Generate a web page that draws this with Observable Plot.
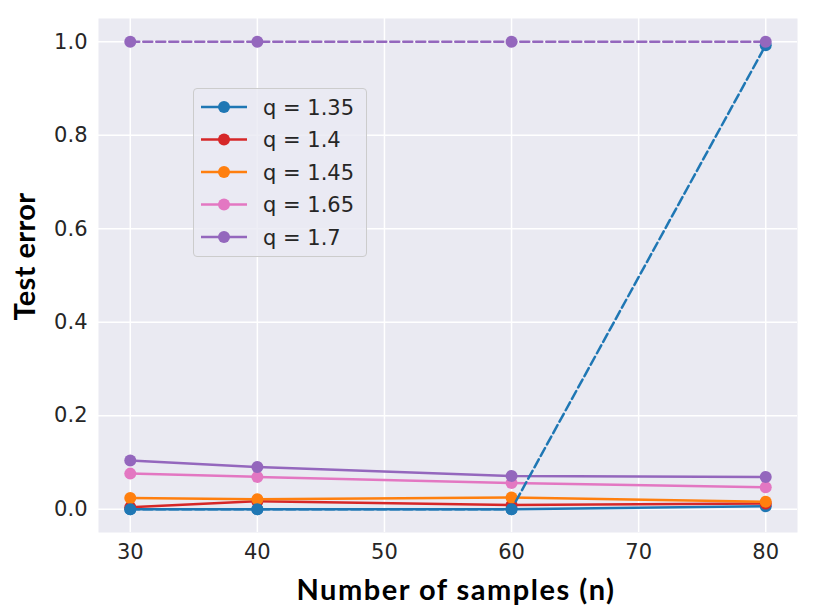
<!DOCTYPE html>
<html>
<head>
<meta charset="utf-8">
<script src="https://cdn.jsdelivr.net/npm/d3@7"></script>
<script src="https://cdn.jsdelivr.net/npm/@observablehq/plot@0.6"></script>
<style>
  html, body { margin: 0; padding: 0; background: white; }
  #wrap { position: relative; width: 831px; height: 615px; }
  #legend { position: absolute; left: 193px; top: 88px; width: 174px; height: 169px;
    background: rgba(234,234,242,0.8); border: 1px solid #cccccc; border-radius: 4px; box-sizing: border-box; }
  .xlab text { letter-spacing: 1.5px; }
  .ylab text { letter-spacing: 0.4px; }
</style>
</head>
<body>
<div id="wrap"><div id="legend"></div></div>
<script>
const samples = [30, 40, 60, 80];
const qLabels = ["q = 1.35", "q = 1.4", "q = 1.45", "q = 1.65", "q = 1.7"];
const colors = ["#1f77b4", "#d62728", "#ff7f0e", "#e377c2", "#9467bd"];
const err135 = [0.000, 0.000, 0.000, 0.006];
const err140 = [0.004, 0.017, 0.009, 0.012];
const err145 = [0.024, 0.021, 0.025, 0.016];
const err165 = [0.076, 0.069, 0.056, 0.047];
const err170 = [0.104, 0.090, 0.071, 0.069];
const err135Dashed = [0.000, 0.000, 0.000, 0.993];
const err170Dashed = [1.000, 1.000, 1.000, 1.000];
const yTicks = [0, 0.2, 0.4, 0.6, 0.8, 1.0];
const xTicks = [30, 40, 50, 60, 70, 80];
const xLabel = "Number of samples (n)";
const yLabel = "Test error";

const solidSeries = [err135, err140, err145, err165, err170];
const solid = [];
solidSeries.forEach((arr, i) => arr.forEach((v, j) => solid.push({q: qLabels[i], n: samples[j], e: v, c: colors[i]})));
const dashed = [];
[[err135Dashed, 0], [err170Dashed, 4]].forEach(([arr, i]) => arr.forEach((v, j) => dashed.push({q: qLabels[i], n: samples[j], e: v, c: colors[i]})));

const marks = [
  Plot.frame({fill: "#eaeaf2", stroke: null}),
  Plot.gridX(xTicks, {stroke: "white", strokeOpacity: 1, strokeWidth: 1.5}),
  Plot.gridY(yTicks, {stroke: "white", strokeOpacity: 1, strokeWidth: 1.5}),
  Plot.axisX(xTicks, {tickSize: 0, tickPadding: 12, fontSize: 21, label: null, tickFormat: d => String(d)}),
  Plot.axisY(yTicks, {tickSize: 0, tickPadding: 11, fontSize: 21, label: null, tickFormat: d => d.toFixed(1)}),
];
for (const ser of [solid, dashed]) {
  const isDashed = ser === dashed;
  for (const q of qLabels) {
    const d = ser.filter(r => r.q === q);
    if (!d.length) continue;
    marks.push(Plot.line(d, {x: "n", y: "e", stroke: d[0].c, strokeWidth: 2.5,
      strokeDasharray: isDashed ? "9,4" : null}));
    marks.push(Plot.dot(d, {x: "n", y: "e", fill: d[0].c, r: 6, stroke: null}));
  }
}
marks.push(Plot.text([xLabel], {text: d => d, className: "xlab", frameAnchor: "bottom", lineAnchor: "middle", textAnchor: "middle", dx: 8, dy: 58, fontSize: 29, fontWeight: "bold", fontFamily: "Lato", fill: "black"}));
marks.push(Plot.text([yLabel], {text: d => d, className: "ylab", frameAnchor: "left", lineAnchor: "middle", textAnchor: "middle", dx: -73, dy: -19, rotate: -90, fontSize: 29, fontWeight: "bold", fontFamily: "Lato", fill: "black"}));

const chart = Plot.plot({
  width: 831, height: 615,
  marginLeft: 98, marginRight: 34, marginTop: 18, marginBottom: 83,
  x: {domain: [27.5, 82.5]},
  y: {domain: [-0.05, 1.05]},
  style: {fontFamily: "DejaVu Sans", color: "#262626", background: "white", overflow: "visible"},
  marks
});
document.getElementById("wrap").prepend(chart);

// legend
const lg = d3.select("#legend").append("svg").attr("width", 172).attr("height", 167)
  .style("font-family", "DejaVu Sans");
qLabels.forEach((q, i) => {
  const y = 18 + i * 32.5;
  lg.append("line").attr("x1", 7).attr("x2", 53).attr("y1", y).attr("y2", y)
    .attr("stroke", colors[i]).attr("stroke-width", 2.5);
  lg.append("circle").attr("cx", 30).attr("cy", y).attr("r", 6).attr("fill", colors[i]);
  lg.append("text").attr("x", 69).attr("y", y).attr("dy", "0.36em")
    .attr("font-size", 21).attr("fill", "#262626").text(q);
});
</script>
</body>
</html>
